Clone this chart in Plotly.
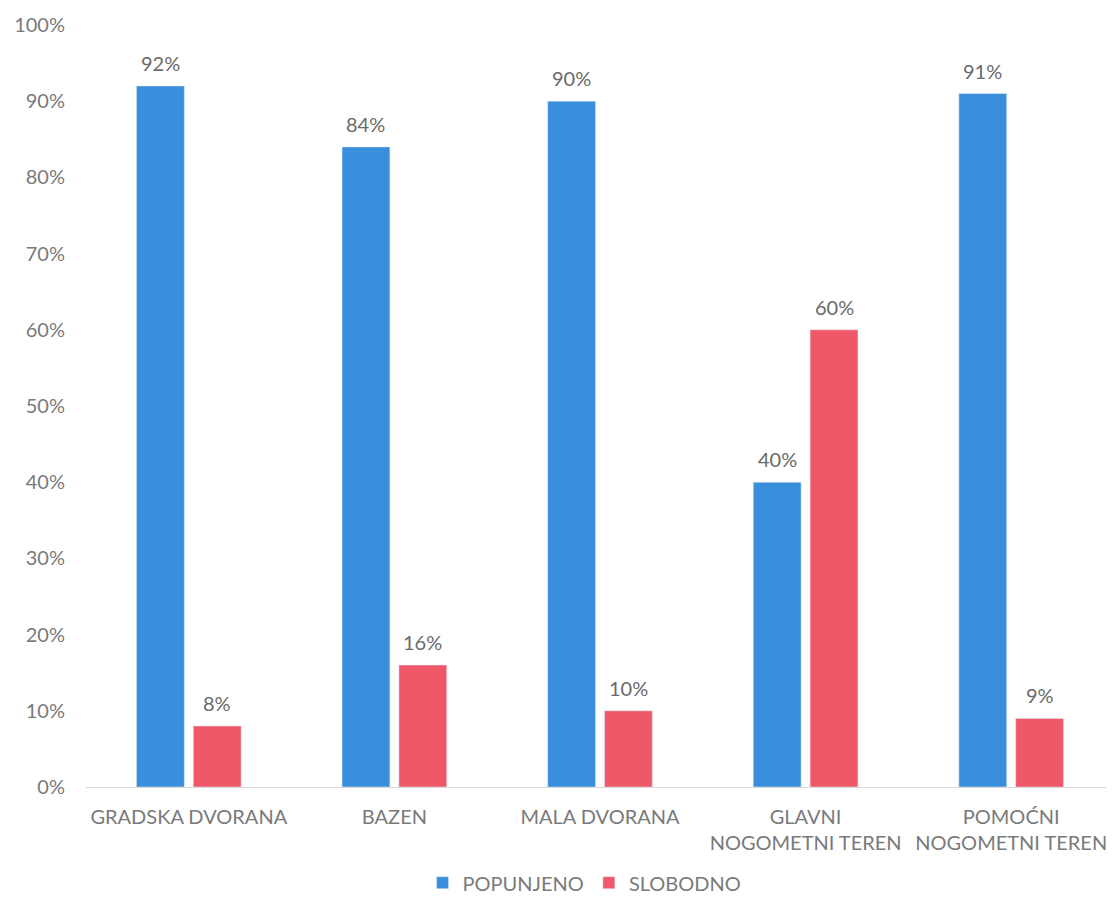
import plotly.graph_objects as go

categories = ["GRADSKA DVORANA", "BAZEN", "MALA DVORANA", "GLAVNI<br>NOGOMETNI TEREN", "POMOĆNI<br>NOGOMETNI TEREN"]
popunjeno = [92, 84, 90, 40, 91]
slobodno = [8, 16, 10, 60, 9]
tick_vals = [0, 10, 20, 30, 40, 50, 60, 70, 80, 90, 100]
tick_text = [f"{v}%" for v in tick_vals]

font_family = "Lato, Open Sans, sans-serif"
gray = "#7a7a7a"
label_gray = "#6a6a6a"
bargap = 0.447
half = (1 - bargap) / 4  # offset of each bar centre from category centre

fig = go.Figure()
fig.add_trace(go.Bar(x=categories, y=popunjeno, name="POPUNJENO", marker_color="#3a8fdd"))
fig.add_trace(go.Bar(x=categories, y=slobodno, name="SLOBODNO", marker_color="#ef5868"))

for i, (p, s) in enumerate(zip(popunjeno, slobodno)):
    for xv, v in ((i - half, p), (i + half, s)):
        fig.add_annotation(x=xv, y=v, xref="x", yref="y", text=f"{v}%",
                           showarrow=False, yanchor="bottom", yshift=9,
                           font=dict(size=20, color=label_gray, family=font_family))

fig.update_layout(
    width=1106, height=893,
    barmode="group", bargap=bargap, bargroupgap=0.158,
    paper_bgcolor="white", plot_bgcolor="white",
    margin=dict(l=78, r=0, t=17, b=114, autoexpand=False),
    font=dict(family=font_family, size=20, color=gray),
    legend=dict(orientation="h", x=0.485, xanchor="center", y=-0.1, yanchor="top",
                font=dict(size=20, color=gray), itemwidth=30),
    showlegend=True,
)
fig.update_yaxes(range=[0, 100], tickvals=tick_vals, ticktext=tick_text,
                 showgrid=False, zeroline=False, showline=False,
                 tickfont=dict(size=20, color=gray), ticklabelstandoff=20)
fig.update_xaxes(showline=True, linecolor="#d9d9d9", linewidth=1,
                 tickfont=dict(size=20, color=gray), ticks="", ticklabelstandoff=12)
fig.write_html("out.html")
